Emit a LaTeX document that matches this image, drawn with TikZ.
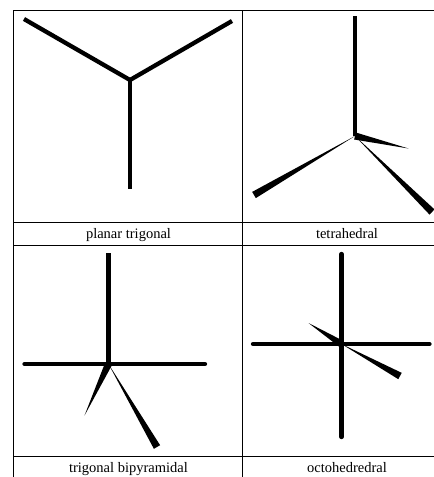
\documentclass[tikz,border=0pt]{standalone}
\usepackage{fontspec}
\setmainfont{Liberation Serif}
\usetikzlibrary{calc}
\tikzset{
  grid line/.style={draw=black,line width=1pt},
  bond/.style={draw=black,line width=4.3pt},
  rbond/.style={draw=black,line width=4.3pt,line cap=round},
  wedge fill/.style={fill=black,draw=none},
  caption/.style={font=\fontsize{14.5}{16}\selectfont,inner sep=0pt,text=black,anchor=base}
}
% #1 thin tip, #2 thick end, #3 half-width of the thick end
\newcommand{\wedgebond}[3]{%
  \fill[wedge fill] (#1) -- ($(#2)!#3!90:(#1)$) -- ($(#2)!#3!-90:(#1)$) -- cycle;}
\begin{document}
\begin{tikzpicture}[x=1pt,y=-1pt]
\useasboundingbox (0,0) rectangle (434,477);
% table rules
\coordinate (TL) at (13.5,10);   \coordinate (TR) at (434,10);
\coordinate (ML) at (13.5,222);  \coordinate (MR) at (434,222);
\coordinate (NL) at (13.5,245);  \coordinate (NR) at (434,245);
\coordinate (PL) at (13.5,456);  \coordinate (PR) at (434,456);
\coordinate (BL) at (13.5,477);
\coordinate (CT) at (242.5,10);  \coordinate (CB) at (242.5,477);
\foreach \a/\b in {TL/TR,ML/MR,NL/NR,PL/PR,TL/BL,CT/CB} \draw[grid line] (\a) -- (\b);
% planar trigonal
\coordinate (a0) at (130,80);
\coordinate (a1) at (24,19);
\coordinate (a2) at (232,21);
\coordinate (a3) at (130,189);
\draw[bond,line join=miter] (a1) -- (a0) -- (a2);
\draw[bond] (a0) -- (a3);
% tetrahedral
\coordinate (b0) at (355,136);
\coordinate (b1) at (355,16);
\coordinate (b2) at (408.5,148.5);
\coordinate (b3) at (254,195);
\coordinate (b4) at (432,212);
\draw[bond] (b0) -- (b1);
\wedgebond{b2}{b0}{3.6pt}
\wedgebond{b0}{b3}{3.6pt}
\wedgebond{b0}{b4}{3.6pt}
% trigonal bipyramidal
\coordinate (c0) at (108.5,364);
\coordinate (c1) at (108.5,252.5);
\coordinate (c2) at (24.5,364);
\coordinate (c3) at (205,364);
\coordinate (c4) at (84.5,415.5);
\coordinate (c5) at (157,447);
\draw[bond] (c0) -- (c1);
\draw[rbond] (c2) -- (c3);
\wedgebond{c4}{c0}{3.6pt}
\wedgebond{c0}{c5}{3.6pt}
% octahedral
\coordinate (d0) at (341.5,344);
\coordinate (d1) at (341.5,254);
\coordinate (d2) at (341.5,437);
\coordinate (d3) at (253,344);
\coordinate (d4) at (429.5,344);
\coordinate (d5) at (308.5,323);
\coordinate (d6) at (400,376);
\draw[rbond] (d1) -- (d2);
\draw[rbond] (d3) -- (d4);
\wedgebond{d5}{d0}{3.6pt}
\wedgebond{d0}{d6}{3.6pt}
% captions
\node[caption] (l1) at (128.5,238) {planar trigonal};
\node[caption] (l2) at (347,238) {tetrahedral};
\node[caption] (l3) at (128.5,472) {trigonal bipyramidal};
\node[caption] (l4) at (347,472) {octohedredral};
\end{tikzpicture}
\end{document}
